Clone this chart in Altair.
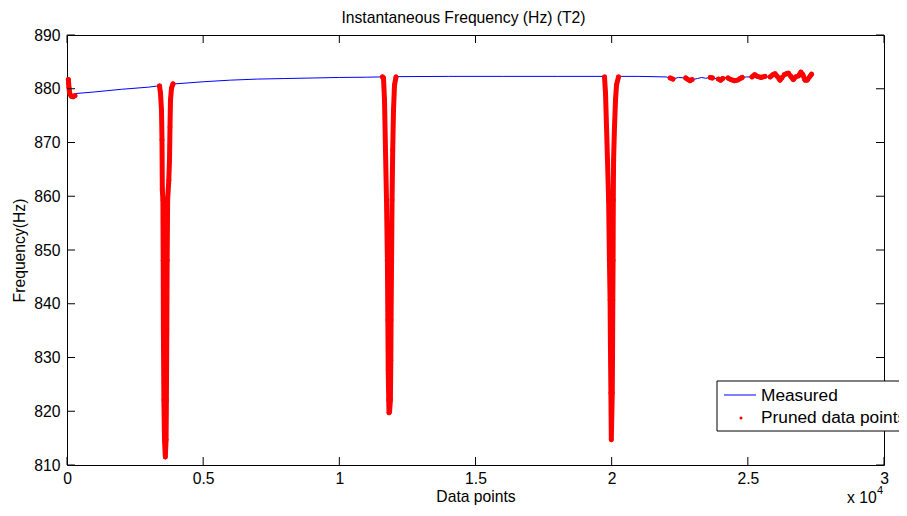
import altair as alt
import pandas as pd

FONT = "Liberation Sans, Arial, Helvetica, sans-serif"
FS = 15.7
LEG_FS = 17.3
W, H = 817, 430

# ---------------- data ----------------
# measured samples outside the pruned regions
measured_x = [300, 1000, 2000, 3000, 3300, 3950, 5000, 6000, 7000, 8000, 9000, 10000,
              11000, 11500, 12150, 14000, 16000, 18000, 19650, 20350, 21000, 22000,
              22450, 23150, 23300, 23450, 24150, 24950, 25050, 25700]
measured_y = [879.1, 879.4, 879.9, 880.3, 880.5, 880.9, 881.3, 881.6, 881.8, 881.9, 882.0, 882.1,
              882.15, 882.2, 882.25, 882.3, 882.3, 882.3, 882.3, 882.3, 882.3, 882.2,
              882.1, 881.9, 882.1, 881.95, 882.1, 882.2, 882.2, 882.2]

# pruned data points (also part of the measured trace)
start_x = [50, 60, 70, 85, 110, 160, 225, 290]
start_y = [881.7, 881.0, 880.3, 879.6, 879.0, 878.6, 878.5, 878.7]

dip1_x = [3397, 3433, 3470, 3488, 3500, 3522, 3532, 3540, 3558, 3580, 3610,
          3638, 3650, 3665, 3678, 3695, 3738, 3764, 3782, 3800, 3837, 3892]
dip1_y = [880.5, 879.2, 876.0, 870.5, 861.2, 859.3, 848.1, 835.1, 822.1, 814.7, 811.5,
          814.7, 822.1, 835.1, 848.1, 859.3, 863.0, 866.7, 872.9, 877.9, 880.1, 880.9]

dip2_x = [11585, 11622, 11659, 11695, 11732, 11765, 11782, 11795, 11814, 11824, 11845,
          11875, 11890, 11900, 11918, 11936, 11960, 11989, 12026, 12081]
dip2_y = [882.2, 882.0, 877.9, 868.6, 859.3, 848.1, 837.0, 827.7, 822.1, 819.7, 819.9,
          822.1, 829.5, 837.0, 848.1, 859.3, 868.6, 876.0, 880.7, 882.2]

dip3_x = [19737, 19774, 19811, 19847, 19888, 19918, 19942, 19954, 19972, 19987,
          20022, 20034, 20042, 20052, 20060, 20070, 20104, 20141, 20178, 20251]
dip3_y = [882.2, 879.2, 872.9, 866.7, 859.3, 848.1, 840.7, 832.7, 823.4, 814.7,
          823.4, 832.7, 840.7, 848.1, 859.3, 866.7, 872.9, 877.9, 880.7, 882.2]

wA_x, wA_y = [22150, 22250], [882.0, 881.8]
wB_x, wB_y = [22720, 22800, 22880, 22950], [882.0, 881.7, 881.5, 881.7]
wC_x, wC_y = [23620, 23700], [882.1, 882.0]
wD_x, wD_y = [23920, 24000, 24080], [881.8, 881.6, 881.9]
wE_x, wE_y = [24270, 24380, 24500, 24620, 24720, 24790], [882.0, 881.7, 881.5, 881.6, 881.9, 882.1]
wF_x, wF_y = [25150, 25250, 25350, 25480, 25630], [882.2, 882.6, 882.3, 882.1, 882.3]
wG_x, wG_y = [25820, 25920, 26000, 26080, 26180, 26260], [882.2, 882.6, 882.8, 882.3, 881.6, 882.1]
wH_x, wH_y = [26340, 26420, 26490, 26580, 26670, 26760], [882.6, 882.8, 882.9, 882.3, 881.7, 882.2]
wI_x, wI_y = [26860, 26950, 27020, 27100, 27180, 27280, 27340], [882.4, 883.1, 882.6, 881.6, 881.6, 882.3, 882.7]

x_ticks = [0, 5000, 10000, 15000, 20000, 25000, 30000]
y_ticks = [810, 820, 830, 840, 850, 860, 870, 880, 890]

title_text = "Instantaneous Frequency (Hz) (T2)"
x_title = "Data points"
y_title = "Frequency(Hz)"
legend_labels = ["Measured", "Pruned data points"]

# ---------------- tables ----------------
segments = [("start", start_x, start_y), ("dip1", dip1_x, dip1_y), ("dip2", dip2_x, dip2_y),
            ("dip3", dip3_x, dip3_y), ("wA", wA_x, wA_y), ("wB", wB_x, wB_y), ("wC", wC_x, wC_y),
            ("wD", wD_x, wD_y), ("wE", wE_x, wE_y), ("wF", wF_x, wF_y), ("wG", wG_x, wG_y),
            ("wH", wH_x, wH_y), ("wI", wI_x, wI_y)]
rows = []
for name, xs, ys in segments:
    for i, (xv, yv) in enumerate(zip(xs, ys)):
        rows.append({"seg": name, "i": i, "x": xv, "y": yv})
pruned = pd.DataFrame(rows)

meas = pd.concat([pd.DataFrame({"x": measured_x, "y": measured_y}), pruned[["x", "y"]]])
meas = meas.sort_values("x").reset_index(drop=True)

xscale = alt.Scale(domain=[0, 30000], nice=False, zero=False)
yscale = alt.Scale(domain=[810, 890], nice=False, zero=False)

common_axis = dict(labelFont=FONT, labelFontSize=FS, labelColor="black",
                   titleFont=FONT, titleFontSize=FS, titleColor="black", titleFontWeight="normal",
                   labelFlush=False, labelOverlap=False, ticks=False, domain=False, grid=False)
xaxis = alt.Axis(values=x_ticks, labelExpr="datum.value / 10000 + ''", title=x_title,
                 titleY=31, titleBaseline="middle", labelPadding=6, **common_axis)
yaxis = alt.Axis(values=y_ticks, title=y_title, titleX=-48, titleY=H / 2, titleBaseline="middle",
                 titleAngle=-90, labelPadding=7, **common_axis)

base_line = alt.Chart(meas).mark_line(color="#0000FF", strokeWidth=1).encode(
    x=alt.X("x:Q", scale=xscale, axis=xaxis),
    y=alt.Y("y:Q", scale=yscale, axis=yaxis),
)

red_line = alt.Chart(pruned).mark_line(color="#FF0000", strokeWidth=5, strokeCap="round",
                                        strokeJoin="round").encode(
    x=alt.X("x:Q", scale=xscale), y=alt.Y("y:Q", scale=yscale), detail="seg:N", order="i:Q"
)
red_pts = alt.Chart(pruned).mark_circle(color="#FF0000", size=24, opacity=1).encode(
    x=alt.X("x:Q", scale=xscale), y=alt.Y("y:Q", scale=yscale)
)

# inward ticks on all four sides
ytk = pd.DataFrame({"v": y_ticks})
xtk = pd.DataFrame({"v": x_ticks})
tick_len = 8
ytick_l = alt.Chart(ytk).mark_rule(color="black", strokeWidth=1).encode(
    y=alt.Y("v:Q", scale=yscale), x=alt.value(0), x2=alt.value(tick_len))
ytick_r = alt.Chart(ytk).mark_rule(color="black", strokeWidth=1).encode(
    y=alt.Y("v:Q", scale=yscale), x=alt.value(W - tick_len), x2=alt.value(W))
xtick_b = alt.Chart(xtk).mark_rule(color="black", strokeWidth=1).encode(
    x=alt.X("v:Q", scale=xscale), y=alt.value(H - tick_len), y2=alt.value(H))
xtick_t = alt.Chart(xtk).mark_rule(color="black", strokeWidth=1).encode(
    x=alt.X("v:Q", scale=xscale), y=alt.value(0), y2=alt.value(tick_len))

one = pd.DataFrame({"a": [0]})
exp_txt = alt.Chart(one).mark_text(align="left", baseline="middle", font=FONT, fontSize=FS,
                                   color="black").encode(x=alt.value(780), y=alt.value(463),
                                                         text=alt.value("x 10"))
exp_sup = alt.Chart(one).mark_text(align="left", baseline="middle", font=FONT, fontSize=11,
                                   color="black").encode(x=alt.value(810), y=alt.value(456),
                                                         text=alt.value("4"))

# legend
leg_box = alt.Chart(one).mark_rect(fill="white", stroke="black", strokeWidth=1).encode(
    x=alt.value(650), x2=alt.value(880), y=alt.value(346), y2=alt.value(396))
leg_line = alt.Chart(one).mark_rule(color="#0000FF", strokeWidth=1).encode(
    x=alt.value(657), x2=alt.value(689), y=alt.value(360))
leg_dot = alt.Chart(one).mark_circle(color="#FF0000", size=9, opacity=1).encode(
    x=alt.value(674), y=alt.value(383))
leg_t1 = alt.Chart(one).mark_text(align="left", baseline="middle", font=FONT, fontSize=LEG_FS,
                                  color="black").encode(x=alt.value(694), y=alt.value(361),
                                                        text=alt.value(legend_labels[0]))
leg_t2 = alt.Chart(one).mark_text(align="left", baseline="middle", font=FONT, fontSize=LEG_FS,
                                  color="black").encode(x=alt.value(694), y=alt.value(383),
                                                        text=alt.value(legend_labels[1]))

chart = alt.layer(
    base_line, red_line, red_pts, ytick_l, ytick_r, xtick_b, xtick_t,
    exp_txt, exp_sup, leg_box, leg_line, leg_dot, leg_t1, leg_t2
).properties(
    width=W, height=H,
    title=alt.TitleParams(title_text, font=FONT, fontSize=FS, fontWeight="normal",
                          anchor="middle", frame="group", offset=0, dx=-12, color="black"),
    autosize=alt.AutoSizeParams(type="none"),
    padding={"left": 59, "top": 27, "right": 15, "bottom": 43},
    background="white",
).configure_view(
    stroke="black", strokeWidth=1
)

chart.save("out.html", embed_options={"renderer": "svg", "actions": False})
